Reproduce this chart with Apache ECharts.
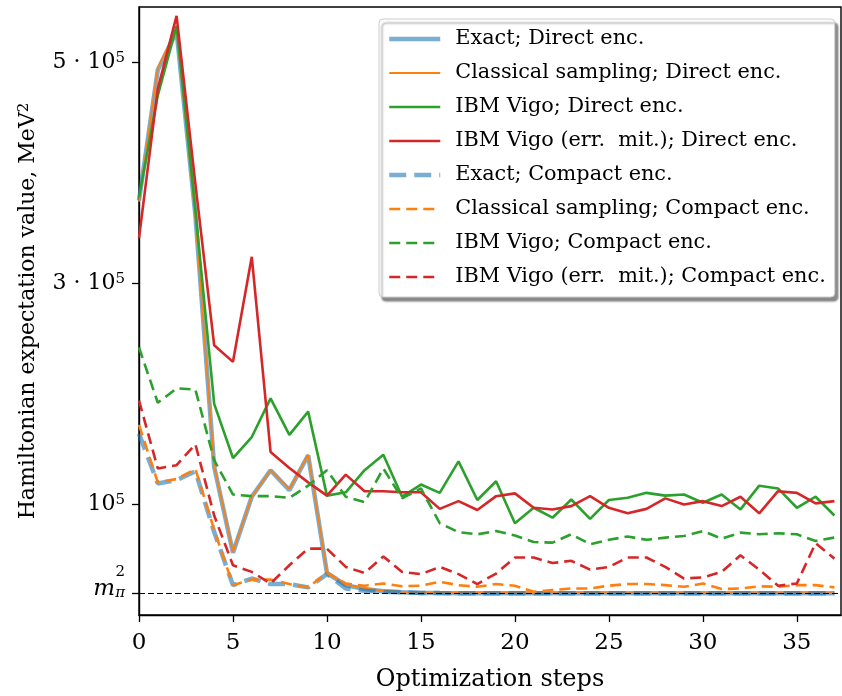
<!DOCTYPE html>
<html>
<head>
<meta charset="utf-8">
<script src="https://cdn.jsdelivr.net/npm/echarts@6/dist/echarts.min.js"></script>
<style>
  html, body { margin: 0; padding: 0; background: #fff; }
  #main { width: 842px; height: 696px; }
</style>
</head>
<body>
<div id="main"></div>
<script>
var FONT = 'DejaVu Serif';
var M_PI2 = 19480;   // pion mass squared, MeV^2

var steps = [];
for (var i = 0; i <= 37; i++) steps.push(i);

var seriesNames = [
    'Exact; Direct enc.',
    'Classical sampling; Direct enc.',
    'IBM Vigo; Direct enc.',
    'IBM Vigo (err.  mit.); Direct enc.',
    'Exact; Compact enc.',
    'Classical sampling; Compact enc.',
    'IBM Vigo; Compact enc.',
    'IBM Vigo (err.  mit.); Compact enc.'
];

// values in units of 1e5 MeV^2
var exactDirect = [3.75, 4.93, 5.28, 3.62, 1.34, 0.563, 1.07, 1.31, 1.13, 1.445, 0.38, 0.27, 0.235, 0.215, 0.205, 0.2,
    0.198, 0.197, 0.197, 0.196, 0.196, 0.196, 0.196, 0.196, 0.196, 0.196, 0.196, 0.196, 0.196, 0.196, 0.196, 0.196,
    0.196, 0.196, 0.196, 0.196, 0.196, 0.196];
var classicalDirect = [3.74, 4.95, 5.3, 3.6, 1.35, 0.57, 1.07, 1.31, 1.14, 1.45, 0.385, 0.275, 0.24, 0.22, 0.21, 0.205,
    0.2, 0.199, 0.2, 0.198, 0.199, 0.198, 0.197, 0.198, 0.199, 0.198, 0.197, 0.198, 0.198, 0.197, 0.198, 0.197,
    0.198, 0.198, 0.197, 0.198, 0.197, 0.198];
var vigoDirect = [3.78, 4.7, 5.33, 3.66, 1.91, 1.42, 1.61, 1.96, 1.63, 1.84, 1.08, 1.11, 1.31, 1.45, 1.07, 1.18,
    1.105, 1.39, 1.04, 1.21, 0.83, 0.97, 0.88, 1.045, 0.87, 1.04, 1.06, 1.105, 1.08, 1.09, 1.015, 1.09,
    0.955, 1.17, 1.145, 0.97, 1.07, 0.9];
var vigoMitDirect = [3.41, 4.76, 5.42, 3.9, 2.44, 2.29, 3.24, 1.475, 1.33, 1.2, 1.08, 1.27, 1.12, 1.12, 1.11, 1.11,
    0.96, 1.03, 0.95, 1.075, 1.1, 0.97, 0.955, 0.985, 1.075, 0.97, 0.92, 0.96, 1.055, 1.0, 1.03, 0.985,
    1.07, 0.92, 1.12, 1.105, 1.01, 1.03];
var exactCompact = [1.64, 1.19, 1.22, 1.3, 0.75, 0.27, 0.33, 0.28, 0.28, 0.25, 0.37, 0.24, 0.22, 0.21, 0.205, 0.2,
    0.198, 0.197, 0.197, 0.197, 0.196, 0.196, 0.196, 0.196, 0.196, 0.196, 0.196, 0.196, 0.196, 0.196, 0.196, 0.196,
    0.196, 0.196, 0.196, 0.196, 0.196, 0.196];
var classicalCompact = [1.72, 1.2, 1.23, 1.32, 0.77, 0.27, 0.32, 0.32, 0.28, 0.25, 0.38, 0.285, 0.265, 0.285, 0.26, 0.265,
    0.3, 0.27, 0.255, 0.28, 0.265, 0.21, 0.225, 0.24, 0.24, 0.265, 0.28, 0.28, 0.27, 0.255, 0.285, 0.235,
    0.24, 0.26, 0.255, 0.27, 0.27, 0.25];
var vigoCompact = [2.42, 1.92, 2.05, 2.04, 1.4, 1.09, 1.075, 1.075, 1.06, 1.17, 1.31, 1.07, 1.02, 1.325, 1.055, 1.145,
    0.83, 0.75, 0.73, 0.76, 0.72, 0.66, 0.655, 0.73, 0.64, 0.68, 0.71, 0.68, 0.7, 0.715, 0.76, 0.69,
    0.745, 0.73, 0.74, 0.73, 0.67, 0.7];
var vigoMitCompact = [1.94, 1.325, 1.355, 1.545, 0.9, 0.45, 0.39, 0.285, 0.45, 0.6, 0.6, 0.435, 0.38, 0.53, 0.39, 0.37,
    0.435, 0.37, 0.28, 0.375, 0.52, 0.52, 0.47, 0.49, 0.41, 0.435, 0.52, 0.52, 0.435, 0.33, 0.34, 0.39,
    0.54, 0.41, 0.265, 0.285, 0.65, 0.51];

var yTicks = [0, M_PI2, 100000, 300000, 500000];

// per-series style: colour, width, opacity, dash
var styles = [
    ['#1f77b4', 4.5, 0.6, 'solid'],
    ['#ff7f0e', 1.8, 1, 'solid'],
    ['#2ca02c', 2.6, 1, 'solid'],
    ['#d62728', 2.6, 1, 'solid'],
    ['#1f77b4', 4.5, 0.6, [17, 8]],
    ['#ff7f0e', 2.6, 1, [11, 6]],
    ['#2ca02c', 2.6, 1, [11, 6]],
    ['#d62728', 2.6, 1, [11, 6]]
];
var allValues = [exactDirect, classicalDirect, vigoDirect, vigoMitDirect,
    exactCompact, classicalCompact, vigoCompact, vigoMitCompact];

function toPairs(vals) {
    return steps.map(function (s, k) { return [s, vals[k] * 1e5]; });
}

function lineStyleOf(st) {
    return { color: st[0], width: st[1], opacity: st[2], type: st[3] };
}

var series = allValues.map(function (vals, k) {
    return {
        name: seriesNames[k],
        type: 'line',
        data: toPairs(vals),
        symbol: 'none',
        showSymbol: false,
        animation: false,
        lineStyle: lineStyleOf(styles[k]),
        itemStyle: { color: styles[k][0] }
    };
});
series.push({
    name: 'mpi2',
    type: 'line',
    data: [],
    z: 10,
    markLine: {
        silent: true,
        symbol: 'none',
        label: { show: false },
        lineStyle: { color: '#000', width: 1.2, type: [6, 3] },
        data: [{ yAxis: M_PI2 }]
    }
});

var legendData = seriesNames.map(function (n, k) {
    return { name: n, lineStyle: lineStyleOf(styles[k]) };
});

var chart = echarts.init(document.getElementById('main'));

var option = {
    animation: false,
    backgroundColor: '#fff',
    grid: {
        left: 139, right: 1, top: 7, bottom: 81,
        outerBoundsMode: 'none',
        containLabel: false,
        show: true, borderColor: '#000', borderWidth: 1.4, backgroundColor: 'transparent'
    },
    legend: {
        orient: 'vertical',
        left: 379, top: 19,
        padding: [8, 9, 8, 8],
        itemGap: 10,
        itemWidth: 51,
        itemHeight: 14,
        itemStyle: { opacity: 0 },
        backgroundColor: '#fff',
        borderColor: '#cccccc',
        borderWidth: 1,
        borderRadius: 4,
        shadowColor: 'rgba(0,0,0,0.45)',
        shadowBlur: 2,
        shadowOffsetX: 3,
        shadowOffsetY: 4,
        textStyle: { fontFamily: FONT, fontSize: 20.8, color: '#000', lineHeight: 24, padding: [0, 0, 0, 10] },
        data: legendData
    },
    xAxis: {
        type: 'value',
        min: 0, max: 37.35, interval: 5,
        name: 'Optimization steps',
        nameLocation: 'middle',
        nameGap: 53,
        nameTextStyle: { fontFamily: FONT, fontSize: 24, color: '#000' },
        axisLine: { lineStyle: { color: '#000', width: 1.4 } },
        axisTick: { show: true, inside: false, length: 7, lineStyle: { color: '#000', width: 1.3 } },
        axisLabel: { fontFamily: FONT, fontSize: 23, color: '#000', margin: 17, showMaxLabel: false },
        splitLine: { show: false }
    },
    yAxis: {
        type: 'value',
        min: 0, max: 550000,
        name: 'Hamiltonian expectation value, MeV{sup|2}',
        nameLocation: 'middle',
        nameGap: 100,
        nameRotate: 90,
        nameTextStyle: {
            fontFamily: FONT, fontSize: 22, color: '#000',
            rich: { sup: { fontFamily: FONT, fontSize: 15, verticalAlign: 'top', lineHeight: 14 } }
        },
        axisLine: { show: true, lineStyle: { color: '#000', width: 1.4 } },
        axisTick: { show: true, inside: false, length: 7, customValues: yTicks, lineStyle: { color: '#000', width: 1.3 } },
        axisLabel: {
            customValues: yTicks,
            margin: 14,
            fontFamily: FONT, fontSize: 22, color: '#000',
            formatter: function (v) {
                if (v === 0) return '{b|0}';
                if (Math.abs(v - M_PI2) < 1) return '{s|2}\n{m|m}{sub|π}\n{gap| }';
                if (v === 100000) return '{b|10}{s|5}';
                return '{b|' + Math.round(v / 100000) + ' · 10}{s|5}';
            },
            rich: {
                b: { fontFamily: FONT, fontSize: 22, color: '#000', lineHeight: 24, align: 'right' },
                s: { fontFamily: FONT, fontSize: 15, color: '#000', lineHeight: 14, verticalAlign: 'top', align: 'right' },
                m: { fontFamily: FONT, fontSize: 23, fontStyle: 'italic', color: '#000', lineHeight: 22, align: 'right' },
                sub: { fontFamily: FONT, fontSize: 15, fontStyle: 'italic', color: '#000', lineHeight: 22, verticalAlign: 'bottom', align: 'right', padding: [10, 0, 0, 0] },
                gap: { fontSize: 10, lineHeight: 22, align: 'right' }
            }
        },
        splitLine: { show: false }
    },
    series: series
};

chart.setOption(option);
</script>
</body>
</html>
